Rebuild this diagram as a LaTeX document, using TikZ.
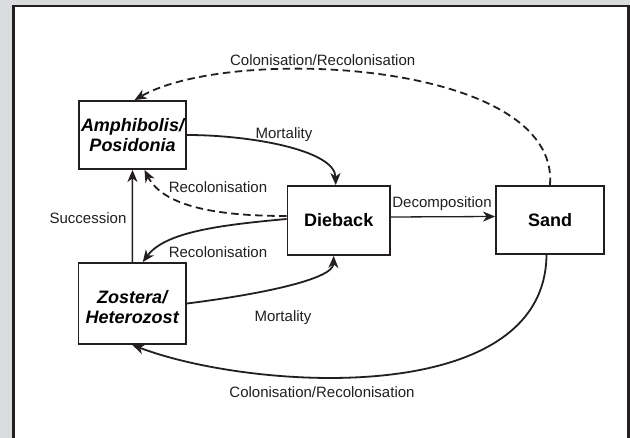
\documentclass[tikz,border=0pt]{standalone}
\usepackage{fontspec}
\setmainfont{Liberation Sans}
\usepackage{tikz}
\usetikzlibrary{arrows.meta}
\definecolor{panelgray}{RGB}{218,219,221}
\definecolor{inkdark}{RGB}{35,31,32}

\begin{document}
\begin{tikzpicture}[x=1pt, y=-1pt,
			state/.style={draw=inkdark, rectangle, line width=1.8pt, inner sep=0pt, fill=white,
				font=\fontsize{18}{20}\selectfont\bfseries},
			lbl/.style={text=inkdark, inner sep=0pt, anchor=base, font=\fontsize{15}{18}\selectfont},
			flow/.style={draw=inkdark, line width=1.8pt, ->, >={Stealth[length=12pt, width=10pt, inset=3.5pt]}},
			every text node part/.style={align=center}]
			\useasboundingbox (0,0) rectangle (630,438);
			\fill[panelgray] (0,0) rectangle (630,438);
			\draw[line width=2.5pt, draw=inkdark, fill=white] (13.3,438) -- (13.3,6.2) -- (628.5,6.2) -- (628.5,438);

			\node[state, minimum width=107pt, minimum height=68pt](node1) at (132.5, 135) {\itshape Amphibolis/\\\itshape Posidonia};
			\node[state, minimum width=102.5pt, minimum height=69pt](node2) at (338.75, 220.5) {Dieback};
			\node[state, minimum width=108pt, minimum height=68pt](node3) at (550, 220) {Sand};
			\node[state, minimum width=107.5pt, minimum height=81pt](node4) at (132.25, 303.5) {\rule{0pt}{20pt}\itshape Zostera/\\\itshape Heterozost};

			% dashed return from sand and dieback
			\draw[flow, dash pattern=on 7.5pt off 4.5pt] (node3.north) .. controls (560, 60) and (230, 45) .. ([xshift=2pt]node1.north);
			\draw[flow, dash pattern=on 7.5pt off 4.5pt] ([yshift=4.5pt]node2.west) .. controls (230, 216) and (165, 210) .. ([xshift=12pt]node1.south);

			\draw[flow] (node1.east) .. controls (250, 135) and (335, 150) .. ([xshift=-3pt]node2.north);
			\draw[flow] ([yshift=1.5pt]node2.west) .. controls (220, 225) and (165, 232) .. ([xshift=10.5pt]node4.north);
			\draw[flow] (node4.east) .. controls (255, 295) and (333, 280) .. ([xshift=-5pt]node2.south);
			\draw[flow, line width=1.5pt] (node4.north) -- (node1.south);
			\draw[flow, line width=1.3pt] ([yshift=3.5pt]node2.east) -- ([yshift=3.5pt]node3.west);
			\draw[flow] ([xshift=-3.5pt]node3.south) .. controls (545, 410) and (250, 390) .. (node4.south);

			\node[lbl](lbl1) at (322.7, 66) {Colonisation/Recolonisation};
			\node[lbl](lbl2) at (284, 138.5) {Mortality};
			\node[lbl](lbl3) at (218, 192.5) {Recolonisation};
			\node[lbl](lbl4) at (88, 223.3) {Succession};
			\node[lbl](lbl5) at (442, 207.7) {Decomposition};
			\node[lbl](lbl6) at (218, 257.5) {Recolonisation};
			\node[lbl](lbl7) at (283, 321.5) {Mortality};
			\node[lbl](lbl8) at (322, 397.5) {Colonisation/Recolonisation};
			\end{tikzpicture}
\end{document}
